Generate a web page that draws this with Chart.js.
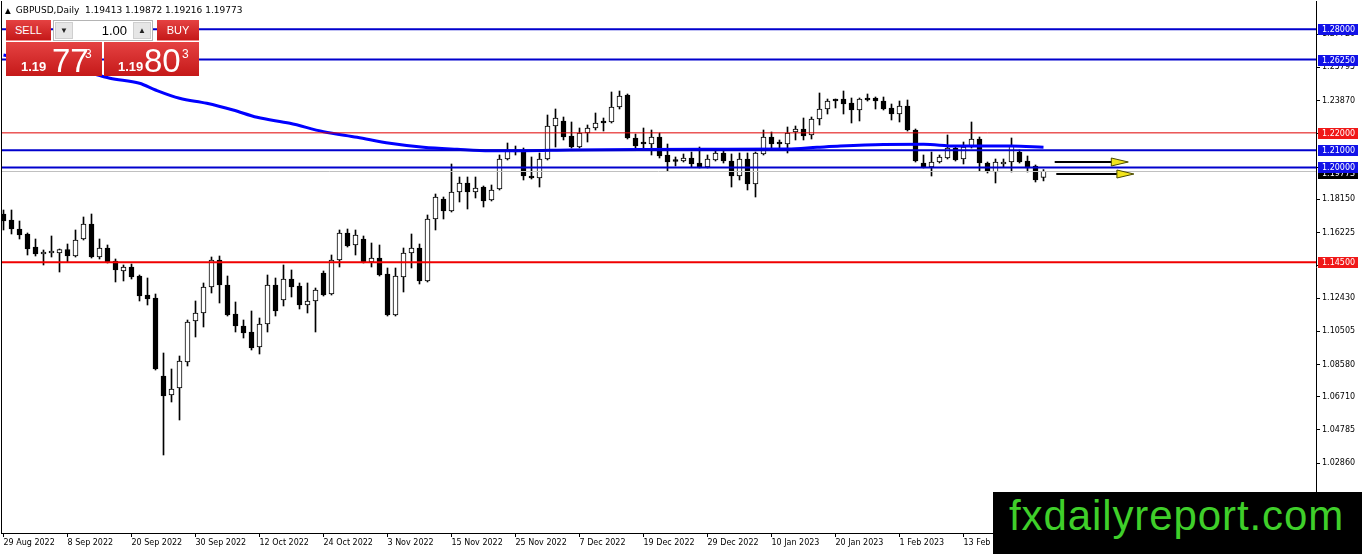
<!DOCTYPE html>
<html>
<head>
<meta charset="utf-8">
<script src="https://cdn.jsdelivr.net/npm/chart.js@4.4.0/dist/chart.umd.min.js"></script>
<style>
  body { margin: 0; background: #fff; }
  #wrap { position: relative; width: 1362px; height: 554px; overflow: hidden; font-family: "DejaVu Sans", sans-serif; }
  #chart { position: absolute; left: 0; top: 0; }
  .hdr { position: absolute; left: 5px; top: 5px; font-size: 9px; color: #000; white-space: nowrap; }
  .hdr .tri { font-size: 7.5px; margin-right: 5px; }
  .red { position: absolute; background: linear-gradient(#e54242, #c51919); color: #fff; font-family: "Liberation Sans", Arial, sans-serif; }
  .btn { height: 21px; line-height: 21px; font-size: 11px; text-align: center; border-bottom: 1px solid #f28a8a; box-sizing: border-box; }
  #sellBtn { left: 6px; top: 20px; width: 45px; }
  #buyBtn { left: 157px; top: 20px; width: 42px; }
  .lot { position: absolute; left: 53px; top: 20px; width: 100px; height: 21px; box-sizing: border-box; border: 1px solid #b4b4b4; background: #fff; font-family: "Liberation Sans", Arial, sans-serif; }
  .lot .sp { position: absolute; top: 1px; width: 18px; height: 17px; background: #e6e6e6; border: 1px solid #cfcfcf; box-sizing: border-box; font-size: 8px; line-height: 16px; text-align: center; color: #222; }
  .lot .dn { left: 1px; }
  .lot .up { left: 79px; }
  .lot .val { position: absolute; right: 25px; top: 2px; font-size: 13px; line-height: 15px; color: #000; }
  .big { top: 42px; height: 34px; }
  #sellBig { left: 6px; width: 96px; }
  #buyBig { left: 104px; width: 95px; }
  .big span { position: absolute; line-height: 1; white-space: nowrap; }
  .big .sm { font-size: 13px; font-weight: bold; top: 18px; }
  .big .lg { font-size: 33px; top: 2px; }
  .big .sup { font-size: 12px; top: 6px; }
  .logo { position: absolute; left: 993px; top: 492px; width: 369px; height: 62px; background: #000; }
  .logo span { position: absolute; left: 16px; top: 3px; font-family: "Liberation Sans", Arial, sans-serif; font-size: 42px; line-height: 1; letter-spacing: 0.9px; color: #3fcf2a; white-space: nowrap; }
</style>
</head>
<body>
<div id="wrap">
  <canvas id="chart" width="1362" height="554"></canvas>
  <div class="hdr"><span class="tri">&#9650;</span>GBPUSD,Daily&nbsp; 1.19413 1.19872 1.19216 1.19773</div>
  <div class="red btn" id="sellBtn">SELL</div>
  <div class="lot"><div class="sp dn">&#9660;</div><span class="val">1.00</span><div class="sp up">&#9650;</div></div>
  <div class="red btn" id="buyBtn">BUY</div>
  <div class="red big" id="sellBig"><span class="sm" style="left:15px">1.19</span><span class="lg" style="left:46px">77</span><span class="sup" style="left:79px">3</span></div>
  <div class="red big" id="buyBig"><span class="sm" style="left:14px">1.19</span><span class="lg" style="left:40px">80</span><span class="sup" style="left:78px">3</span></div>
  <div class="logo"><span>fxdailyreport.com</span></div>
</div>
<script>
// GBPUSD daily, 29 Aug 2022 .. 27 Feb 2023 (one candle per weekday, index 0 = 29 Aug)
const opens = [
  1.17299, 1.16952, 1.16430, 1.16141, 1.15387, 1.14982, 1.15040, 1.15040, 1.15243, 1.14866,
  1.15851, 1.16720, 1.14808, 1.15330, 1.14576, 1.13997, 1.14229, 1.13707, 1.12606, 1.12433,
  1.07913, 1.06813, 1.07218, 1.08724, 1.11100, 1.11564, 1.13070, 1.14634, 1.13186, 1.11506,
  1.10811, 1.10463, 1.09594, 1.10926, 1.13186, 1.12317, 1.13533, 1.13128, 1.12027, 1.12259,
  1.13881, 1.12664, 1.14634, 1.16199, 1.15503, 1.15851, 1.14518, 1.14750, 1.13823, 1.11448,
  1.13649, 1.15040, 1.15330, 1.13418, 1.17010, 1.18169, 1.17473, 1.18574, 1.19096, 1.18574,
  1.18864, 1.18111, 1.18748, 1.20486, 1.21008, 1.20892, 1.19501, 1.19385, 1.20486, 1.22398,
  1.22688, 1.21819, 1.21181, 1.21992, 1.22282, 1.22630, 1.22630, 1.23499, 1.24194, 1.21703,
  1.21384, 1.21355, 1.21761, 1.20718, 1.20370, 1.20370, 1.20544, 1.20254, 1.20023, 1.20428,
  1.20834, 1.20370, 1.19501, 1.20486, 1.19038, 1.20776, 1.21761, 1.21384, 1.21355, 1.22050,
  1.22224, 1.21877, 1.22803, 1.23383, 1.23904, 1.23962, 1.23730, 1.23325, 1.24020, 1.24020,
  1.23846, 1.23441, 1.23093, 1.23557, 1.22166, 1.20254, 1.20023, 1.20312, 1.20544, 1.21123,
  1.20486, 1.21181, 1.21645, 1.20254, 1.19733, 1.20196, 1.20312, 1.20892, 1.20370, 1.20081,
  1.19413
];
const highs = [
  1.17531, 1.17531, 1.16894, 1.16199, 1.15851, 1.15214, 1.16025, 1.15272, 1.15561, 1.16373,
  1.17126, 1.17299, 1.15851, 1.15503, 1.14692, 1.14345, 1.14402, 1.13765, 1.13591, 1.12664,
  1.09246, 1.08319, 1.09072, 1.11158, 1.12259, 1.13302, 1.14808, 1.14866, 1.13707, 1.12201,
  1.11158, 1.11680, 1.11274, 1.13765, 1.13591, 1.14345, 1.14055, 1.13302, 1.13302, 1.13012,
  1.13997, 1.14924, 1.16373, 1.16430, 1.16373, 1.16025, 1.15619, 1.15503, 1.14171, 1.14171,
  1.15330, 1.16141, 1.15561, 1.17242, 1.18458, 1.18284, 1.20196, 1.19443, 1.19443, 1.19443,
  1.18922, 1.18980, 1.20718, 1.21413, 1.21239, 1.21123, 1.20602, 1.20834, 1.23035, 1.23383,
  1.22919, 1.22630, 1.22282, 1.22456, 1.23151, 1.22861, 1.24368, 1.24426, 1.24252, 1.21934,
  1.22282, 1.22166, 1.21992, 1.21355, 1.20602, 1.20776, 1.20892, 1.21181, 1.20718, 1.21008,
  1.20950, 1.20776, 1.20834, 1.20834, 1.20892, 1.22166, 1.22050, 1.21587, 1.22340, 1.22398,
  1.22861, 1.22919, 1.24310, 1.23962, 1.23962, 1.24426, 1.24020, 1.24020, 1.24252, 1.24078,
  1.24078, 1.23672, 1.23846, 1.23904, 1.22224, 1.20718, 1.20892, 1.20718, 1.21877, 1.21239,
  1.21471, 1.22630, 1.21761, 1.20312, 1.20486, 1.20486, 1.21703, 1.21008, 1.20660, 1.20139,
  1.19872
];
const lows = [
  1.16373, 1.16141, 1.15851, 1.14924, 1.14866, 1.14345, 1.14808, 1.13939, 1.14518, 1.14808,
  1.15793, 1.14750, 1.14692, 1.14460, 1.13360, 1.13418, 1.13533, 1.12259, 1.12027, 1.08261,
  1.03337, 1.06407, 1.05364, 1.08493, 1.10173, 1.10753, 1.12722, 1.12143, 1.11390, 1.10463,
  1.10115, 1.09420, 1.09188, 1.10463, 1.11390, 1.11969, 1.12491, 1.11795, 1.11564, 1.10463,
  1.12549, 1.12606, 1.14229, 1.15387, 1.14924, 1.14460, 1.14229, 1.13707, 1.11390, 1.11390,
  1.12780, 1.14171, 1.13244, 1.13360, 1.16373, 1.17010, 1.17415, 1.17995, 1.17589, 1.18227,
  1.17705, 1.18053, 1.18690, 1.20428, 1.20718, 1.19269, 1.19327, 1.18864, 1.20428, 1.21181,
  1.21587, 1.21123, 1.21123, 1.21471, 1.22166, 1.22108, 1.22572, 1.23383, 1.21645, 1.21123,
  1.21123, 1.20718, 1.20544, 1.19791, 1.20081, 1.20312, 1.20023, 1.19965, 1.19965, 1.20370,
  1.20254, 1.18864, 1.19269, 1.18690, 1.18284, 1.20718, 1.21008, 1.21123, 1.20834, 1.21587,
  1.21587, 1.21645, 1.22456, 1.23093, 1.23441, 1.23093, 1.22572, 1.22688, 1.23846, 1.23383,
  1.23325, 1.22746, 1.22630, 1.22108, 1.20312, 1.19965, 1.19501, 1.20254, 1.20486, 1.20370,
  1.20196, 1.21123, 1.19791, 1.19675, 1.19096, 1.20023, 1.19733, 1.20254, 1.19733, 1.19154,
  1.19216
];
const closes = [
  1.16894, 1.16430, 1.16083, 1.15272, 1.14982, 1.15098, 1.15098, 1.15243, 1.14866, 1.15793,
  1.16720, 1.14808, 1.15330, 1.14518, 1.14055, 1.14229, 1.13649, 1.12549, 1.12375, 1.08319,
  1.06755, 1.07160, 1.08782, 1.11042, 1.11564, 1.13070, 1.14634, 1.13186, 1.11448, 1.10811,
  1.10405, 1.09536, 1.10926, 1.13186, 1.11680, 1.13533, 1.13070, 1.12027, 1.12259, 1.12896,
  1.12606, 1.14634, 1.16199, 1.15445, 1.16083, 1.14518, 1.14750, 1.13765, 1.11448, 1.13707,
  1.15040, 1.15330, 1.13418, 1.17010, 1.18284, 1.17473, 1.18574, 1.19096, 1.18574, 1.18806,
  1.18053, 1.18690, 1.20486, 1.21008, 1.20892, 1.19501, 1.19385, 1.20486, 1.22398, 1.22861,
  1.21761, 1.21181, 1.21992, 1.22282, 1.22572, 1.22572, 1.23499, 1.24136, 1.21703, 1.21239,
  1.21355, 1.21761, 1.20660, 1.20312, 1.20341, 1.20544, 1.20196, 1.20023, 1.20486, 1.20834,
  1.20370, 1.19501, 1.20486, 1.19038, 1.20834, 1.21761, 1.21355, 1.21355, 1.21992, 1.22224,
  1.21819, 1.22803, 1.23383, 1.23846, 1.23846, 1.23672, 1.23325, 1.23962, 1.23904, 1.23846,
  1.23383, 1.23093, 1.23557, 1.22166, 1.20370, 1.20023, 1.20312, 1.20602, 1.21123, 1.20428,
  1.21181, 1.21645, 1.20254, 1.19791, 1.20312, 1.20312, 1.21239, 1.20312, 1.19965, 1.19269,
  1.19773
];

// moving average, read at these bar positions
const maIdx = [0, 5, 10, 13.3, 17, 19, 22, 25.4, 28.7, 31.7, 35.8, 40, 44.2, 48.3, 52.5, 56.7,
  60.8, 65, 70.8, 80, 90, 98, 101.7, 104.6, 110, 115, 119, 126, 130];
const maVal = [1.26511, 1.26106, 1.25584, 1.25162, 1.24872, 1.24484, 1.24003, 1.23713, 1.23325,
  1.22902, 1.22555, 1.22068, 1.21743, 1.21396, 1.21164, 1.21048, 1.20967, 1.20967, 1.21008,
  1.21036, 1.21048, 1.21065, 1.21164, 1.21239, 1.21326, 1.21338, 1.21239, 1.21239, 1.21164];

// horizontal levels drawn on the chart
const levelPrices = [1.28, 1.2625, 1.22, 1.21, 1.20, 1.145];
const levelKinds = ['blue', 'blue', 'redThin', 'blue', 'blue', 'red'];
const bidPrice = 1.19773;

// the two arrows on the right (bar position from/to, price)
const arrowFrom = [131.4, 131.6];
const arrowTo = [140.6, 141.3];
const arrowPrice = [1.20312, 1.19634];

const xTickPos = [0, 8, 16, 24, 32, 40, 48, 56, 64, 72, 80, 88, 96, 104, 112, 120];
const xTickLabels = ['29 Aug 2022', '8 Sep 2022', '20 Sep 2022', '30 Sep 2022', '12 Oct 2022',
  '24 Oct 2022', '3 Nov 2022', '15 Nov 2022', '25 Nov 2022', '7 Dec 2022', '19 Dec 2022',
  '29 Dec 2022', '10 Jan 2023', '20 Jan 2023', '1 Feb 2023', '13 Feb 2023'];
const yTickValues = [1.27720, 1.25795, 1.23870, 1.21945, 1.20020, 1.18150, 1.16225, 1.14335,
  1.12430, 1.10505, 1.08580, 1.06710, 1.04785, 1.02860, 1.00935];

const levelStyle = {
  blue: { color: '#0000cd', width: 2, box: '#1212e8' },
  redThin: { color: '#e00000', width: 1, box: '#f01818' },
  red: { color: '#f00000', width: 2, box: '#f01818' }
};
const axisFont = { family: 'DejaVu Sans', size: 8 };

function tag(ctx, left, py, bg, text) {
  const cy = Math.round(py);
  ctx.fillStyle = bg;
  ctx.fillRect(left, cy - 5, 40, 11);
  ctx.fillStyle = '#fff';
  ctx.font = '8px "DejaVu Sans"';
  ctx.textAlign = 'left';
  ctx.textBaseline = 'middle';
  ctx.fillText(text, left + 4, cy + 0.5);
}

// lines, arrows and price tags
const overlay = {
  id: 'overlay',
  afterDatasetsDraw(chart) {
    const { ctx, chartArea: a, scales: { x, y } } = chart;
    ctx.save();
    ctx.beginPath();
    ctx.rect(a.left, a.top, a.right - a.left, a.bottom - a.top);
    ctx.clip();

    const by = Math.round(y.getPixelForValue(bidPrice)) + 0.5;
    ctx.strokeStyle = '#c0c0c0';
    ctx.lineWidth = 1;
    ctx.beginPath(); ctx.moveTo(a.left, by); ctx.lineTo(a.right, by); ctx.stroke();

    levelPrices.forEach((p, i) => {
      const st = levelStyle[levelKinds[i]];
      const py = y.getPixelForValue(p);
      ctx.strokeStyle = st.color;
      ctx.lineWidth = st.width;
      ctx.beginPath(); ctx.moveTo(a.left, py); ctx.lineTo(a.right, py); ctx.stroke();
    });

    arrowPrice.forEach((p, i) => {
      const x1 = x.getPixelForValue(arrowFrom[i]);
      const x2 = x.getPixelForValue(arrowTo[i]);
      const py = Math.round(y.getPixelForValue(p));
      ctx.strokeStyle = '#000';
      ctx.lineWidth = 2;
      ctx.beginPath(); ctx.moveTo(x1, py); ctx.lineTo(x2 - 16, py); ctx.stroke();
      ctx.fillStyle = '#f2e41c';
      ctx.strokeStyle = '#4a4a00';
      ctx.lineWidth = 1;
      ctx.beginPath();
      ctx.moveTo(x2 - 17, py - 4); ctx.lineTo(x2, py); ctx.lineTo(x2 - 17, py + 4);
      ctx.closePath(); ctx.fill(); ctx.stroke();
    });
    ctx.restore();

    // left frame
    ctx.save();
    ctx.strokeStyle = '#000';
    ctx.lineWidth = 1;
    ctx.beginPath(); ctx.moveTo(a.left + 0.5, a.top); ctx.lineTo(a.left + 0.5, a.bottom); ctx.stroke();
    ctx.restore();
  },
  afterDraw(chart) {
    const { ctx, chartArea: a, scales: { y } } = chart;
    ctx.save();
    tag(ctx, a.right + 2, y.getPixelForValue(bidPrice) + 2, '#000', bidPrice.toFixed(5));
    levelPrices.forEach((p, i) => {
      tag(ctx, a.right + 2, y.getPixelForValue(p), levelStyle[levelKinds[i]].box, p.toFixed(5));
    });
    ctx.restore();
  }
};

const bars = opens.map((o, i) => i);
const wickData = bars.map(i => ({ x: i, y: [lows[i], highs[i]] }));
const bodyData = bars.map(i => ({ x: i, y: [opens[i], closes[i]] }));
const bodyFill = bars.map(i => closes[i] >= opens[i] ? '#ffffff' : '#000000');
const maData = maIdx.map((v, i) => ({ x: v, y: maVal[i] }));

new Chart(document.getElementById('chart'), {
  type: 'bar',
  data: {
    datasets: [
      { data: wickData, barThickness: 1, backgroundColor: '#000', borderWidth: 0, grouped: false, order: 3 },
      { data: bodyData, barThickness: 5, backgroundColor: bodyFill, borderColor: '#000', borderWidth: 1,
        borderSkipped: false, grouped: false, minBarLength: 2, order: 2 },
      { type: 'line', data: maData, borderColor: '#0000ff', borderWidth: 3, pointRadius: 0,
        cubicInterpolationMode: 'monotone', order: 1 }
    ]
  },
  options: {
    responsive: false,
    devicePixelRatio: 1,
    animation: false,
    layout: { padding: { left: 1, top: 1, right: 0, bottom: 0 } },
    plugins: { legend: { display: false }, tooltip: { enabled: false } },
    scales: {
      x: {
        type: 'linear', min: -0.3125, max: 164.0625, offset: false,
        afterFit: s => { s.height = 21; s.paddingLeft = 0; s.paddingRight = 0; },
        afterBuildTicks: s => { s.ticks = xTickPos.map(v => ({ value: v })); },
        ticks: { callback: (v, i) => xTickLabels[i], align: 'start', maxRotation: 0, autoSkip: false,
          font: axisFont, color: '#000', padding: 1 },
        grid: { drawOnChartArea: false, offset: false, color: '#000', tickLength: 4 },
        border: { color: '#000' }
      },
      y: {
        position: 'right', min: 0.98817, max: 1.29640,
        afterFit: s => { s.width = 46; s.paddingTop = 0; s.paddingBottom = 0; },
        afterBuildTicks: s => { s.ticks = yTickValues.map(v => ({ value: v })); },
        ticks: { callback: v => v.toFixed(5), autoSkip: false, font: axisFont, color: '#000', padding: 2 },
        grid: { drawOnChartArea: false, color: '#000', tickLength: 4 },
        border: { color: '#000' }
      }
    }
  },
  plugins: [overlay]
});
</script>
</body>
</html>
